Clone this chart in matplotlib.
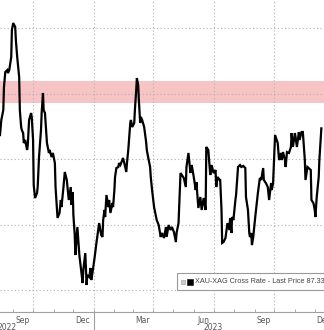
import numpy as np
import matplotlib
matplotlib.use("Agg")
import matplotlib.pyplot as plt
from matplotlib.patches import Rectangle

# XAU-XAG cross rate, days counted from 2022-08-12
start = np.datetime64("2022-08-12")
days = [0, 2, 5, 6, 8, 11, 12, 14, 17, 18, 20, 23, 24, 26, 29, 30, 32, 33, 35, 36, 38, 41,
        42, 44, 47, 48, 50, 51, 53, 56, 57, 59, 62, 63, 65, 66, 68, 69, 71, 74, 75, 78, 80, 83,
        84, 87, 90, 92, 93, 96, 98, 101, 104, 107, 108, 110, 111, 113, 114, 117, 120, 123, 125,
        126, 129, 131, 132, 135, 137, 138, 140, 143, 146, 149, 150, 153, 155, 156, 158, 159,
        161, 164, 165, 167, 170, 171, 173, 174, 176, 179, 180, 182, 185, 186, 188, 191, 192,
        194, 197, 198, 200, 203, 204, 206, 207, 209, 210, 212, 213, 215, 218, 221, 222, 224,
        227, 228, 230, 233, 236, 237, 240, 243, 245, 248, 251, 252, 255, 258, 260, 263, 266,
        267, 270, 273, 275, 278, 281, 282, 285, 288, 290, 293, 296, 297, 300, 303, 305, 308,
        311, 312, 315, 318, 320, 323, 326, 327, 329, 332, 333, 335, 336, 338, 341, 342, 344,
        347, 348, 350, 351, 353, 356, 357, 360, 363, 365, 368, 371, 372, 375, 377, 378, 380,
        381, 383, 386, 390, 393, 395, 398, 399, 402, 405, 407, 410, 411, 413, 416, 417, 420,
        422, 425, 426, 428, 431, 432, 434, 437, 440, 441, 443, 446, 447, 449, 452, 453, 456,
        458, 461, 462, 465, 470, 471, 474, 476, 477, 479, 482, 483, 486]
rate = [86.83, 87.98, 88.74, 90.50, 91.64, 91.79, 91.56, 91.79, 92.79, 94.85, 95.38, 95.08,
        94.08, 92.79, 91.26, 88.74, 87.44, 87.21, 86.98, 86.22, 86.45, 85.69, 86.07, 87.98,
        88.51, 88.21, 86.45, 83.01, 82.02, 82.40, 82.86, 85.15, 87.21, 88.51, 90.04, 88.74,
        88.51, 87.75, 86.22, 85.46, 85.69, 85.15, 85.46, 84.69,
        82.86, 80.50, 80.88, 81.87, 81.33, 82.86, 84.01, 83.40, 81.87, 82.86, 81.49, 82.48,
        80.72, 79.20, 77.67, 79.81, 77.67, 76.37, 75.53, 76.53, 77.82, 75.38, 76.14, 75.99,
        76.68, 75.76, 76.37, 77.44, 78.66, 79.73, 80.11, 79.20, 79.05, 80.34, 81.11, 80.57,
        82.25, 81.33, 81.87, 80.88, 81.64, 81.33, 82.63, 83.63, 84.31, 84.39, 84.69, 84.54,
        84.92, 85.08, 84.69, 84.01, 84.69, 85.69, 87.75, 87.98, 87.44, 87.75, 88.74, 90.27,
        91.18, 90.65, 89.50, 87.75, 88.21, 87.98, 87.44, 86.30, 85.69, 85.15, 84.39, 83.63,
        82.63, 81.33, 80.57, 80.34, 79.96, 79.05, 79.35, 78.97, 79.81, 79.05, 79.96, 79.58,
        79.81, 79.43, 78.66, 79.35, 80.11, 83.93, 83.78, 83.55, 82.86, 84.39, 85.46, 83.93,
        84.54, 83.63, 82.63, 83.24, 81.26, 82.10, 81.11, 82.02, 81.11, 85.92, 85.69, 83.78,
        84.54, 83.93, 84.16, 82.86, 83.63, 83.40, 83.40, 81.11, 78.59, 78.66, 78.97, 79.35,
        80.11, 79.58, 80.50, 79.35, 80.57, 80.34, 81.87, 82.25, 84.39, 84.54, 84.39, 84.47,
        84.31, 82.10, 81.11, 79.35, 79.05, 79.35, 78.43, 79.05, 80.57, 82.40, 83.55, 83.40,
        84.31, 83.40, 83.17, 82.86, 81.87, 83.17, 82.63, 83.17, 86.83, 86.68, 86.22, 84.92,
        85.46, 84.92, 85.53, 84.92, 84.39, 85.53, 85.46, 85.92, 86.98, 85.92, 86.98, 86.68,
        85.92, 87.06, 86.45, 87.06, 87.06, 84.92, 83.40, 84.39, 84.16, 81.87, 81.64, 81.11,
        80.57, 82.10, 83.63, 84.92, 87.34]

band = (89.25, 90.95)
y_grid = [75, 80, 85, 90, 95]
quarter_starts = ["2022-10-01", "2023-01-01", "2023-04-01", "2023-07-01", "2023-10-01"]
month_labels = ["Sep", "Dec", "Mar", "Jun", "Sep", "Dec"]
label_dates = ["2022-09-15", "2022-12-15", "2023-03-15", "2023-06-15", "2023-09-15", "2023-12-15"]
years = ["2022", "2023"]
legend_text = "XAU-XAG Cross Rate - Last Price 87.337"

dates = start + np.array(days).astype("timedelta64[D]")

fig = plt.figure(figsize=(3.24, 3.30), dpi=100)
ax = fig.add_axes([0, 1 - 312 / 330, 1, 312 / 330])

ax.axhspan(band[0], band[1], color="#f7c4c5", zorder=0, lw=0)
for v in y_grid:
    ax.axhline(v, color="#b0b0b0", lw=0.8, ls=(0, (1, 2.2)), zorder=1)
for q in quarter_starts:
    ax.axvline(np.datetime64(q), color="#b0b0b0", lw=0.8, ls=(0, (1, 2.2)), zorder=1)

ax.plot(dates, rate, color="black", lw=1.6, zorder=3, solid_joinstyle="miter")

ax.set_xlim(start, start + np.timedelta64(486, "D"))
ax.set_ylim(73.32, 97.14)

for s in ["top", "left", "right"]:
    ax.spines[s].set_visible(False)
ax.spines["bottom"].set_color("#a0a0a0")
ax.spines["bottom"].set_linewidth(0.8)
ax.set_yticks([])

ax.set_xticks([np.datetime64(d) for d in label_dates])
ax.set_xticklabels(month_labels, fontsize=5.5, color="#555555")
ax.tick_params(axis="x", which="major", length=0, pad=3)
month_starts = np.arange(np.datetime64("2022-09"), np.datetime64("2024-01")).astype("datetime64[D]")
ax.set_xticks(month_starts, minor=True)
ax.tick_params(axis="x", which="minor", length=2, direction="in", color="#a0a0a0")

tr = ax.get_xaxis_transform()
ax.text(start - np.timedelta64(4, "D"), -0.05, years[0], transform=tr, fontsize=5.5,
        color="#555555", ha="left", va="center", clip_on=False)
ax.text(np.datetime64("2023-07-01"), -0.05, years[1], transform=tr, fontsize=5.5,
        color="#555555", ha="center", va="center", clip_on=False)
ax.plot([np.datetime64("2023-01-01")] * 2, [0, -0.06], transform=tr, color="#a0a0a0",
        lw=0.8, clip_on=False)

# legend box
fig.patches.append(Rectangle((177 / 324, 1 - 290 / 330), 160 / 324, 17 / 330,
                             transform=fig.transFigure, facecolor="white",
                             edgecolor="#999999", lw=0.8, zorder=5))
fig.patches.append(Rectangle((181 / 324, 1 - 283.5 / 330), 4 / 324, 4 / 330,
                             transform=fig.transFigure, facecolor="#cccccc",
                             edgecolor="#999999", lw=0.4, zorder=6))
fig.patches.append(Rectangle((187 / 324, 1 - 285 / 330), 6 / 324, 6 / 330,
                             transform=fig.transFigure, facecolor="black",
                             edgecolor="black", lw=0.4, zorder=6))
fig.text(195 / 324, 1 - 281.5 / 330, legend_text, fontsize=5.2, color="#444444",
         family="Liberation Sans", ha="left", va="center", zorder=7)

fig.savefig("out.png", dpi=100)
